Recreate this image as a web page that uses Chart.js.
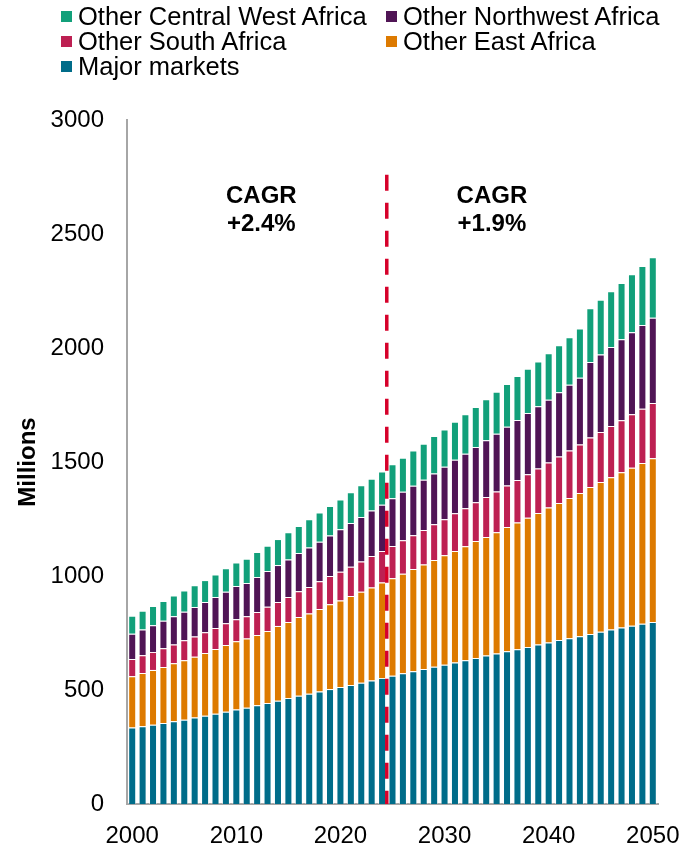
<!DOCTYPE html>
<html>
<head>
<meta charset="utf-8">
<script src="https://cdn.jsdelivr.net/npm/chart.js@4/dist/chart.umd.min.js"></script>
<style>
  html, body { margin: 0; padding: 0; background: #fff; }
  #wrap { position: relative; width: 682px; height: 847px; }
  #legend {
    position: absolute; left: 61px; top: 4px;
    display: grid; grid-template-columns: 325px auto;
    font-family: "Liberation Sans", Arial, sans-serif;
    font-size: 25.5px; line-height: 25px; color: #000;
  }
  #legend .item { display: flex; align-items: center; white-space: nowrap; }
  #legend .box { width: 11px; height: 11px; margin-right: 6px; flex: none; }
</style>
</head>
<body>
<div id="wrap">
  <canvas id="chart" width="682" height="847"></canvas>
  <div id="legend"></div>
</div>
<script>
// Population by region, millions (2000–2024 actual, 2025–2050 projected)
const years = [
  '2000','2001','2002','2003','2004','2005','2006','2007','2008','2009',
  '2010','2011','2012','2013','2014','2015','2016','2017','2018','2019',
  '2020','2021','2022','2023','2024','2025','2026','2027','2028','2029',
  '2030','2031','2032','2033','2034','2035','2036','2037','2038','2039',
  '2040','2041','2042','2043','2044','2045','2046','2047','2048','2049','2050'
];
const xTickLabels = ['2000','2010','2020','2030','2040','2050'];

const majorMarkets = [
  335,341,348,355,363,370,379,387,396,405,
  414,422,433,443,453,465,475,484,493,504,
  513,522,532,542,553,563,573,582,592,602,
  611,621,630,640,651,660,670,679,689,700,
  708,719,727,736,746,755,765,774,782,791,798
];
const otherEastAfrica = [
  225,234,240,246,254,260,267,275,284,292,
  300,304,308,316,328,333,345,352,362,372,
  380,390,399,408,418,427,437,449,458,468,
  480,489,500,513,520,532,545,556,567,576,
  592,601,615,628,644,657,668,681,693,705,718
];
const otherSouthAfrica = [
  76,77,79,82,83,88,89,91,92,96,
  96,97,101,106,105,110,113,116,122,124,
  126,129,133,138,139,142,147,148,152,157,
  158,165,167,170,176,179,182,186,190,196,
  198,204,208,213,217,220,225,228,234,238,243
];
const otherNorthwestAfrica = [
  111,113,117,121,123,125,129,133,136,138,
  146,146,154,157,162,164,168,173,173,178,
  186,191,195,199,203,209,213,217,220,223,
  230,235,239,243,248,253,258,263,269,272,
  275,282,289,293,332,339,346,355,360,367,374
];
const otherCentralWestAfrica = [
  79,83,84,86,91,93,95,96,99,103,
  103,107,109,111,114,120,118,124,128,129,
  131,135,139,140,145,149,149,154,158,164,
  164,167,173,175,180,184,187,193,194,197,
  204,206,208,215,235,241,245,247,254,259,265
];

const FONT = '"Liberation Sans", Arial, sans-serif';

// Dashed divider between history and projection, plus growth notes
const divider = { index: 24.45, top: 2760, color: '#D6002A' };
const growthNotes = [
  { index: 12.4, lines: ['CAGR', '+2.4%'] },
  { index: 34.55, lines: ['CAGR', '+1.9%'] }
];

const overlayPlugin = {
  id: 'overlay',
  afterDatasetsDraw(chart) {
    const { ctx, scales: { x, y } } = chart;
    ctx.save();
    // divider
    const xp = x.getPixelForValue(divider.index);
    ctx.strokeStyle = divider.color;
    ctx.lineWidth = 3.5;
    ctx.setLineDash([16, 12]);
    ctx.beginPath();
    ctx.moveTo(xp, y.getPixelForValue(divider.top));
    ctx.lineTo(xp, y.getPixelForValue(0));
    ctx.stroke();
    ctx.setLineDash([]);
    // notes
    ctx.fillStyle = '#000';
    ctx.font = 'bold 24px ' + FONT;
    ctx.textAlign = 'center';
    ctx.textBaseline = 'middle';
    growthNotes.forEach(n => {
      const nx = x.getPixelForValue(n.index);
      ctx.fillText(n.lines[0], nx, y.getPixelForValue(2667));
      ctx.fillText(n.lines[1], nx, y.getPixelForValue(2544));
    });
    ctx.restore();
  }
};

const barStyle = {
  borderColor: 'rgba(255,255,255,0.4)',
  borderWidth: 1,
  barPercentage: 0.77,
  categoryPercentage: 1
};

const chart = new Chart(document.getElementById('chart'), {
  type: 'bar',
  data: {
    labels: years,
    datasets: [
      { label: 'Major markets', data: majorMarkets, backgroundColor: '#006C89', ...barStyle },
      { label: 'Other East Africa', data: otherEastAfrica, backgroundColor: '#DD7A00', ...barStyle },
      { label: 'Other South Africa', data: otherSouthAfrica, backgroundColor: '#BD2052', ...barStyle },
      { label: 'Other Northwest Africa', data: otherNorthwestAfrica, backgroundColor: '#501555', ...barStyle },
      { label: 'Other Central West Africa', data: otherCentralWestAfrica, backgroundColor: '#12A07A', ...barStyle }
    ]
  },
  options: {
    responsive: false,
    animation: false,
    devicePixelRatio: 1,
    layout: { padding: { top: 120, right: 24, bottom: 0, left: 0 } },
    plugins: { legend: { display: false }, tooltip: { enabled: false } },
    scales: {
      x: {
        stacked: true,
        grid: { display: false, drawTicks: false },
        border: { color: '#A6A6A6', width: 2 },
        ticks: {
          autoSkip: false, maxRotation: 0, padding: 18, color: '#000',
          font: { family: FONT, size: 24 },
          callback(v) {
            const l = this.getLabelForValue(v);
            return xTickLabels.includes(l) ? l : '';
          }
        },
        afterFit(s) {
          s.height = 43;
          // the end labels may run past the plot edges
          s.paddingLeft = 0;
          s.paddingRight = 0;
        }
      },
      y: {
        stacked: true, min: 0, max: 3000,
        grid: { display: false, drawTicks: false },
        border: { color: '#A6A6A6', width: 2 },
        ticks: {
          stepSize: 500, padding: 23, color: '#000',
          font: { family: FONT, size: 24 },
          callback: v => String(v)
        },
        title: {
          display: true, text: 'Millions', color: '#000',
          font: { family: FONT, size: 24, weight: 'bold' },
          padding: { top: 14, bottom: 0 }
        },
        afterFit(s) { s.width = 127; }
      }
    }
  },
  plugins: [overlayPlugin]
});

// Legend in two columns, top series first
const legendEl = document.getElementById('legend');
chart.data.datasets.slice().reverse().forEach(ds => {
  const item = document.createElement('div');
  item.className = 'item';
  const box = document.createElement('span');
  box.className = 'box';
  box.style.background = ds.backgroundColor;
  const txt = document.createElement('span');
  txt.textContent = ds.label;
  item.appendChild(box);
  item.appendChild(txt);
  legendEl.appendChild(item);
});
</script>
</body>
</html>
